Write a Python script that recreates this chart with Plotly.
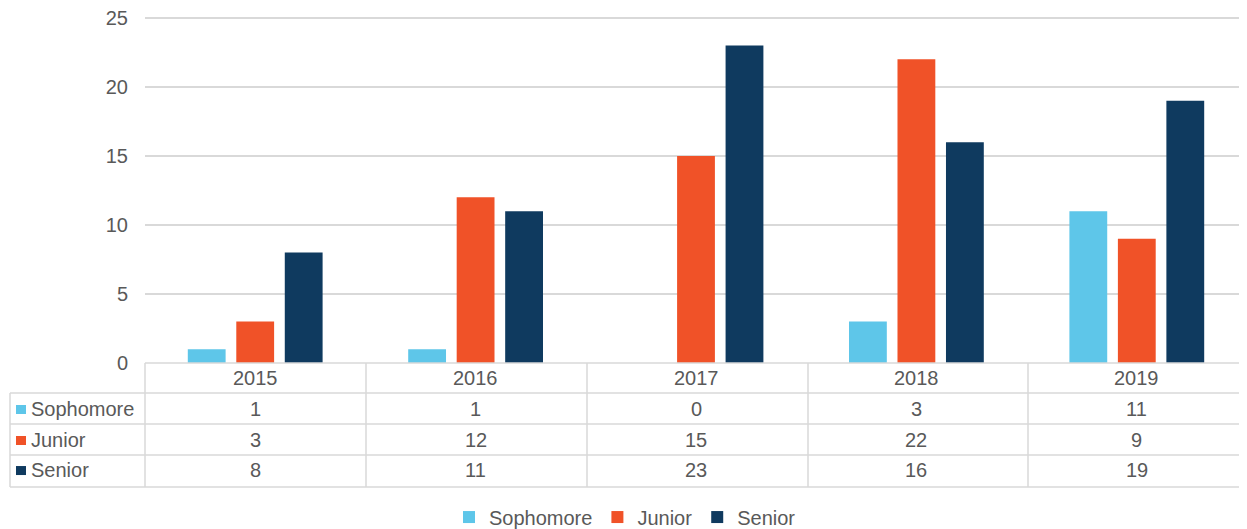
import plotly.graph_objects as go

years = ["2015", "2016", "2017", "2018", "2019"]
sophomore = [1, 1, 0, 3, 11]
junior = [3, 12, 15, 22, 9]
senior = [8, 11, 23, 16, 19]

series = [
    ("Sophomore", sophomore, "#5EC6E9"),
    ("Junior", junior, "#F05228"),
    ("Senior", senior, "#0F3A5F"),
]

# the page body has an 8px margin, so the figure is 8px smaller
OFF = 8
YMAX = 25.5
unit = (363 - 18) / 25          # pixels per unit on the value axis
W, H = 1247 - OFF, 529 - OFF
L, R, B = 145 - OFF, 0, 166
T = 18 - OFF - (YMAX - 25) * unit
pw = W - L - R
ph = H - T - B
grid = "#D9D9D9"
txt = "#595959"
font = "Liberation Sans, Arial, sans-serif"
fs = 20


def px_x(p):
    # screen pixel -> paper x
    return (p - OFF - L) / pw


def px_y(p):
    # screen pixel -> paper y
    return (H - B - (p - OFF)) / ph


fig = go.Figure()
for name, vals, color in series:
    fig.add_trace(go.Bar(x=years, y=vals, name=name, marker_color=color,
                         marker_line_width=0))

shapes = []
annotations = []

# data table grid lines
row_lines = [363, 393, 424, 455, 487]
for y in row_lines:
    x0 = 145 if y == 363 else 10
    shapes.append(dict(type="line", xref="paper", yref="paper",
                       x0=px_x(x0), x1=1, y0=px_y(y), y1=px_y(y),
                       line=dict(color=grid, width=1.5)))
for x in [145, 366, 587, 808, 1028]:
    shapes.append(dict(type="line", xref="paper", yref="paper",
                       x0=px_x(x), x1=px_x(x), y0=px_y(363), y1=px_y(487),
                       line=dict(color=grid, width=1.5)))
shapes.append(dict(type="line", xref="paper", yref="paper",
                   x0=px_x(10), x1=px_x(10), y0=px_y(393), y1=px_y(487),
                   line=dict(color=grid, width=1.5)))

# header row with years (x = category index)
for i, yr in enumerate(years):
    annotations.append(dict(x=i, xref="x", y=px_y(378), yref="paper",
                            text=yr, showarrow=False, yanchor="middle",
                            font=dict(size=fs, color=txt, family=font)))

row_centers = [409, 440, 470]
for (name, vals, color), yc in zip(series, row_centers):
    shapes.append(dict(type="rect", xref="paper", yref="paper",
                       x0=px_x(16), x1=px_x(26), y0=px_y(yc - 4), y1=px_y(yc + 5),
                       fillcolor=color, line=dict(width=0)))
    annotations.append(dict(x=px_x(29), xref="paper", y=px_y(yc), yref="paper",
                            text=name, showarrow=False, xanchor="left",
                            yanchor="middle",
                            font=dict(size=fs, color=txt, family=font)))
    for i, v in enumerate(vals):
        annotations.append(dict(x=i, xref="x", y=px_y(yc), yref="paper",
                                text=str(v), showarrow=False, yanchor="middle",
                                font=dict(size=fs, color=txt, family=font)))

fig.update_layout(
    width=W, height=H,
    margin=dict(l=L, r=R, t=T, b=B, autoexpand=False),
    plot_bgcolor="white", paper_bgcolor="white",
    barmode="group", bargap=0.34, bargroupgap=0.22,
    font=dict(family=font, size=fs, color=txt),
    xaxis=dict(type="category", range=[-0.5, 4.5], showticklabels=False,
               showgrid=False, zeroline=False, showline=False, ticks="",
               automargin=False),
    yaxis=dict(range=[0, YMAX], tickmode="array",
               tickvals=[0, 5, 10, 15, 20, 25], showgrid=True, gridcolor=grid,
               gridwidth=1.5, zeroline=False, showline=False, automargin=False,
               ticks="", ticklabelstandoff=16, ticklabeloverflow="allow",
               tickfont=dict(size=fs, color=txt, family=font)),
    legend=dict(orientation="h", x=px_x(625), xanchor="center",
                y=px_y(517), yanchor="middle", itemwidth=30,
                font=dict(size=fs, color=txt, family=font)),
    shapes=shapes,
    annotations=annotations,
)

fig.write_html("out.html")
